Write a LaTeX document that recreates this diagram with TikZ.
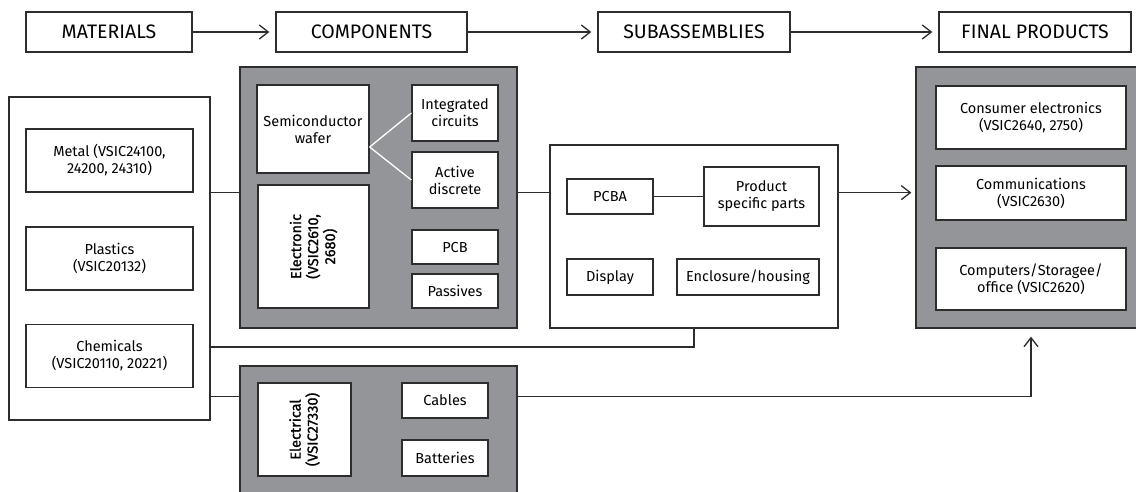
\documentclass[tikz,border=0pt]{standalone}
\usepackage{fontspec}
\setmainfont{Fira Sans}
\newfontfamily\heavyfont[FakeBold=1.2]{Fira Sans}
\usetikzlibrary{arrows.meta,calc}
\definecolor{panelgray}{RGB}{147,149,152}
\definecolor{linegray}{RGB}{45,45,45}

\begin{document}
\begin{tikzpicture}[x=1pt, y=-1pt,
		box/.style={draw=linegray, fill=white, line width=1.3pt, inner sep=2pt, align=center, font=\fontsize{14.5}{17}\selectfont},
		head/.style={box, minimum height=40pt, font=\fontsize{19.5}{22}\selectfont},
		panel/.style={draw=linegray, fill=panelgray, line width=1.3pt, inner sep=0pt},
		link/.style={linegray, line width=1.3pt},
		flow/.style={link, -{Straight Barb[length=9pt, width=14pt]}, shorten >=6pt}]
		\useasboundingbox (0,0) rectangle (1136,491);
		
		% Stages
		\node[head, minimum width=166pt] (Materials) at (109,32) {MATERIALS};
		\node[head, minimum width=191pt] (Components) at (371.5,32) {COMPONENTS};
		\node[head, minimum width=192pt] (Subassemblies) at (694,32) {SUBASSEMBLIES};
		\node[head, minimum width=192pt] (FinalProducts) at (1035,32) {FINAL PRODUCTS};
		\draw[flow] (Materials) -- (Components);
		\draw[flow] (Components) -- (Subassemblies);
		\draw[flow] (Subassemblies) -- (FinalProducts);
		
		% Materials
		\node[box, minimum width=201pt, minimum height=323pt] (MatBox) at (109.5,258.5) {};
		\node[box, minimum width=167pt, minimum height=63pt] (Metal) at (109.5,160.5) {Metal (VSIC24100,\\24200, 24310)};
		\node[box, minimum width=167pt, minimum height=63pt] (Plastics) at (109.5,258.5) {Plastics\\(VSIC20132)};
		\node[box, minimum width=167pt, minimum height=63pt] (Chemicals) at (109.5,356) {Chemicals\\(VSIC20110, 20221)};
		
		% Components
		\node[panel, minimum width=277pt, minimum height=261pt] (CompPanel) at (378.5,197.5) {};
		\node[box, minimum width=112pt, minimum height=88pt] (Semi) at (313,129) {Semiconductor\\wafer};
		\node[box, minimum width=86pt, minimum height=56pt] (Integrated) at (455,113) {Integrated\\circuits};
		\node[box, minimum width=86pt, minimum height=56pt] (Active) at (455,180) {Active\\discrete};
		\node[box, rotate=90, minimum width=123pt, minimum height=111pt, font=\fontsize{14.5}{17}\heavyfont] (Electronic) at (313.5,246.5) {Electronic\\(VSIC2610,\\2680)};
		\node[box, minimum width=86pt, minimum height=34pt] (PCB) at (455,247) {PCB};
		\node[box, minimum width=86pt, minimum height=34pt] (Passives) at (455,291) {Passives};
		\draw[white, line width=1.3pt] ($(Semi.east)+(0,18)$) -- (Integrated.west);
		\draw[white, line width=1.3pt] ($(Semi.east)+(0,18)$) -- (Active.west);
		
		\node[panel, minimum width=277pt, minimum height=154pt] (ElecPanel) at (378.5,443) {};
		\node[box, rotate=90, minimum width=93pt, minimum height=93pt, font=\fontsize{14.5}{17}\heavyfont] (Electrical) at (304.5,429.5) {Electrical\\(VSIC27330)};
		\node[box, minimum width=86pt, minimum height=35pt] (Cables) at (445,400.5) {Cables};
		\node[box, minimum width=86pt, minimum height=36pt] (Batteries) at (445,458) {Batteries};
		
		% Subassemblies
		\node[box, minimum width=288pt, minimum height=183pt] (SubBox) at (694,236.5) {};
		\node[box, minimum width=86pt, minimum height=35pt] (PCBA) at (610,196.5) {PCBA};
		\node[box, minimum width=115pt, minimum height=59pt] (Specific) at (761.5,196.5) {Product\\specific parts};
		\node[box, minimum width=86pt, minimum height=36pt] (Display) at (610,277) {Display};
		\node[box, minimum width=142pt, minimum height=36pt] (Enclosure) at (748,277) {Enclosure/housing};
		\draw[link] (PCBA) -- (Specific);
		
		% Final products
		\node[panel, minimum width=226pt, minimum height=261pt] (FinalPanel) at (1029,197.5) {};
		\node[box, minimum width=190pt, minimum height=63pt] (Consumer) at (1031,117.5) {Consumer electronics\\(VSIC2640, 2750)};
		\node[box, minimum width=190pt, minimum height=54pt] (Communications) at (1031,193) {Communications\\(VSIC2630)};
		\node[box, minimum width=190pt, minimum height=62pt] (Computers) at (1031,279) {Computers/Storagee/\\office (VSIC2620)};
		
		% Links
		\coordinate (ChemLevel) at (0,347);
		\coordinate (ElecLevel) at (0,396.5);
		\draw[link] (MatBox.east |- Metal.south) -- (CompPanel.west |- Metal.south);
		\draw[link] (CompPanel.east |- Metal.south) -- (SubBox.west |- Metal.south);
		\draw[flow, shorten >=4pt] (SubBox.east |- Metal.south) -- (FinalPanel.west |- Metal.south);
		\draw[link] (MatBox.east |- ChemLevel) -| (SubBox.south);
		\draw[link] (MatBox.east |- ElecLevel) -- (ElecPanel.west |- ElecLevel);
		\draw[flow, shorten >=8pt] (ElecPanel.east |- ElecLevel) -| (Computers.south |- FinalPanel.south);
		
	\end{tikzpicture}
\end{document}
